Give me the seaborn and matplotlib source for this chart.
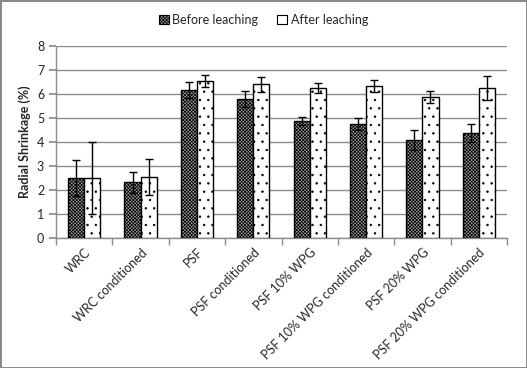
import numpy as np
import pandas as pd
import matplotlib
matplotlib.use('Agg')
import matplotlib.pyplot as plt
from matplotlib.patches import Patch
import seaborn as sns

# Du lieu doc tu bieu do
categories = ['WRC', 'WRC conditioned', 'PSF', 'PSF conditioned', 'PSF 10% WPG',
              'PSF 10% WPG conditioned', 'PSF 20% WPG', 'PSF 20% WPG conditioned']
before_vals = [2.50, 2.32, 6.15, 5.78, 4.86, 4.74, 4.07, 4.36]
before_err = [0.77, 0.45, 0.33, 0.33, 0.17, 0.25, 0.42, 0.38]
after_vals = [2.50, 2.53, 6.53, 6.40, 6.24, 6.32, 5.86, 6.24]
after_err = [1.50, 0.75, 0.25, 0.30, 0.20, 0.25, 0.25, 0.50]
series = ['Before leaching', 'After leaching']

sns.set_theme(style='white')
plt.rcParams['font.family'] = ['Lato', 'DejaVu Sans']
plt.rcParams['hatch.linewidth'] = 0.5

df = pd.DataFrame({
    'Sample': categories * 2,
    'Leaching': [series[0]] * len(categories) + [series[1]] * len(categories),
    'Shrinkage': before_vals + after_vals,
})

fig = plt.figure(figsize=(5.27, 3.68), dpi=100, edgecolor='#8a8a8a', linewidth=2)
ax = fig.add_axes([56 / 527, 1 - 238 / 368, (507 - 56) / 527, (238 - 46) / 368])

sns.barplot(data=df, x='Sample', y='Shrinkage', hue='Leaching', order=categories,
            hue_order=series, width=0.57, gap=0, errorbar=None,
            palette=['#9a9a9a', 'white'], edgecolor='black', linewidth=1,
            saturation=1, ax=ax, legend=False, zorder=3)

hatches = ['xxxxxxxxxx', '..']
errs = [before_err, after_err]
for cont, h, e in zip(ax.containers, hatches, errs):
    xs, ys = [], []
    for p in cont:
        p.set_hatch(h)
        p.set_edgecolor('black')
        xs.append(p.get_x() + p.get_width() / 2)
        ys.append(p.get_height())
    ax.errorbar(xs, ys, yerr=e, fmt='none', ecolor='black', elinewidth=1,
                capsize=3, capthick=1, zorder=4)

ax.set_ylim(0, 8)
ax.set_xlim(-0.5, len(categories) - 0.5)
ax.set_yticks(range(0, 9))
ax.yaxis.grid(True, color='#8c8c8c', linewidth=1)
ax.set_axisbelow(True)
for s in ['top', 'right']:
    ax.spines[s].set_visible(False)
for s in ['left', 'bottom']:
    ax.spines[s].set_color('#8c8c8c')
    ax.spines[s].set_linewidth(1)

ax.set_xticks(np.arange(len(categories)))
ax.set_xticklabels(categories, rotation=45, ha='right', rotation_mode='anchor', fontsize=9)
ax.set_xticks(np.arange(len(categories) + 1) - 0.5, minor=True)
ax.tick_params(axis='x', which='major', length=0, pad=6)
ax.tick_params(axis='x', which='minor', length=5, color='#8c8c8c', direction='out', bottom=True)
ax.tick_params(axis='y', length=5, color='#8c8c8c', direction='out', left=True, labelsize=9)
ax.set_xlabel('')
ax.set_ylabel('Radial Shrinkage (%)', fontsize=9, fontweight='bold')

handles = [Patch(facecolor='#9a9a9a', edgecolor='black', hatch='xxxxxxxxxx', linewidth=0.8),
           Patch(facecolor='white', edgecolor='black', linewidth=0.8)]
fig.legend(handles, series, loc='center', bbox_to_anchor=(0.5, 1 - 20 / 368), ncol=2,
           frameon=False, fontsize=9, handlelength=0.8, handleheight=0.8,
           handletextpad=0.3, columnspacing=1.5)

fig.savefig('out.png', dpi=100)
